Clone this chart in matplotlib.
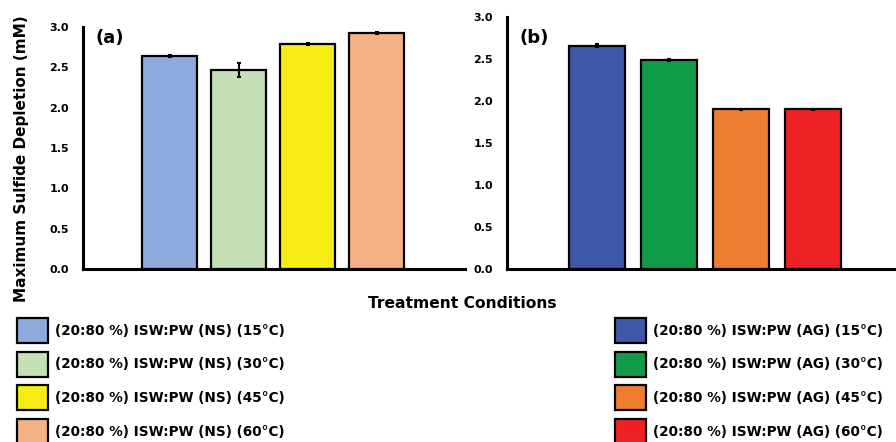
import matplotlib.pyplot as plt

# Maximum sulfide depletion (mM) per treatment, mean and error
conditions_ns = ['(20:80 %) ISW:PW (NS) (15°C)', '(20:80 %) ISW:PW (NS) (30°C)',
                 '(20:80 %) ISW:PW (NS) (45°C)', '(20:80 %) ISW:PW (NS) (60°C)']
depletion_ns = [2.64, 2.47, 2.79, 2.93]
error_ns = [0.01, 0.085, 0.012, 0.012]
colors_ns = ['#8FAADC', '#C5E0B4', '#F7EC13', '#F4B183']

conditions_ag = ['(20:80 %) ISW:PW (AG) (15°C)', '(20:80 %) ISW:PW (AG) (30°C)',
                 '(20:80 %) ISW:PW (AG) (45°C)', '(20:80 %) ISW:PW (AG) (60°C)']
depletion_ag = [2.66, 2.49, 1.90, 1.90]
error_ag = [0.015, 0.012, 0.01, 0.006]
colors_ag = ['#3E58A8', '#119D48', '#ED7D31', '#EE2124']

yticks = [0.0, 0.5, 1.0, 1.5, 2.0, 2.5, 3.0]

W, H = 896, 442
fig = plt.figure(figsize=(W / 100, H / 100), dpi=100)

ax_a = fig.add_axes([83 / W, 1 - 269 / H, (465 - 83) / W, (269 - 27) / H])
ax_b = fig.add_axes([507 / W, 1 - 269 / H, (896 - 507) / W, (269 - 17) / H])


def draw_panel(ax, values, errors, colors, tag, tag_y, xlim, width):
    pos = list(range(len(values)))
    bars = ax.bar(pos, values, width=width, color=colors, edgecolor='black',
                  linewidth=1.6, yerr=errors, capsize=1.5,
                  error_kw=dict(elinewidth=1.5, capthick=1.5, ecolor='black'))
    ax.set_xlim(*xlim)
    ax.set_ylim(0, 3.0)
    ax.set_yticks(yticks)
    ax.set_yticklabels([f'{t:.1f}' for t in yticks], fontsize=8, fontweight='bold')
    ax.set_xticks([])
    ax.tick_params(axis='y', length=0, pad=10)
    for side in ['top', 'right']:
        ax.spines[side].set_visible(False)
    for side in ['left', 'bottom']:
        ax.spines[side].set_linewidth(2.2)
    ax.text(0.07, tag_y, tag, transform=ax.transAxes, fontsize=13,
            fontweight='bold', va='center', ha='center')
    return bars


bars_a = draw_panel(ax_a, depletion_ns, error_ns, colors_ns, '(a)', 0.955, (-1.26, 4.28), 0.8)
bars_b = draw_panel(ax_b, depletion_ag, error_ag, colors_ag, '(b)', 0.915, (-1.25, 4.16), 0.78)

fig.text(22 / W, 1 - 159 / H, 'Maximum Sulfide Depletion (mM)', rotation=90,
         fontsize=11, fontweight='bold', ha='center', va='center')
fig.text(462 / W, 1 - 303 / H, 'Treatment Conditions', fontsize=11.2,
         fontweight='bold', ha='center', va='center')

leg_kw = dict(loc='upper left', frameon=False, borderpad=0, borderaxespad=0,
              handlelength=2.28, handleheight=2.45, labelspacing=0.64,
              handletextpad=0.51, prop=dict(size=9.8, weight='bold'))
fig.legend(bars_a.patches, conditions_ns, bbox_to_anchor=(17 / W, 1 - 318 / H), **leg_kw)
fig.legend(bars_b.patches, conditions_ag, bbox_to_anchor=(615 / W, 1 - 318 / H), **leg_kw)

fig.savefig('out.png', dpi=100)
